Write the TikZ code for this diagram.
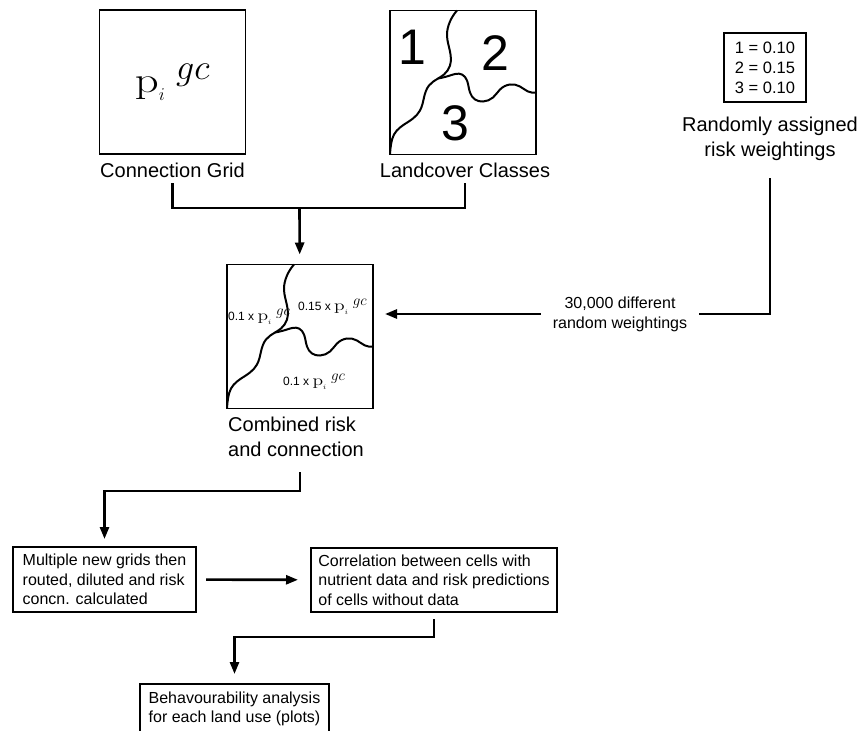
\RequirePackage{fix-cm}
\documentclass[tikz,border=0pt]{standalone}
\usepackage{graphicx}
\usepackage[no-math]{fontspec}
\newfontfamily\arial{Liberation Sans}
\usetikzlibrary{
  hobby,
  arrows.meta,
  positioning,
}
\newcommand\pgc[1]{{\fontsize{#1}{#1}\selectfont$\scalebox{1.3}[1]{$\mathrm{p}$}_{\scriptscriptstyle i}{}^{\hspace{.3em}\textstyle gc}$}}
\tikzset{
  frame/.style={line width=1.8pt},
  line/.style={line width=2.6pt},
  link/.style={line, -{Triangle[length=12pt,width=9pt]}},
  grid/.style={draw, frame, minimum width=146pt, minimum height=144pt, inner sep=0pt, outer sep=0pt},
  lbl/.style={font=\arial\fontsize{20}{25}\selectfont, inner sep=0pt},
  digit/.style={font=\arial\fontsize{50}{50}\selectfont, inner sep=0pt},
  share/.style={font=\arial\fontsize{12}{14}\selectfont, inner sep=0pt, anchor=west},
  note/.style={font=\arial\fontsize{16}{20}\selectfont, align=center, inner xsep=12pt, inner ysep=0pt},
  stepbox/.style={draw, frame, font=\arial\fontsize{16}{19.5}\selectfont, align=left, inner sep=0pt, outer sep=0pt},
  regions/.pic={
    \draw[line width=2pt, use Hobby shortcut] (67,0) .. (60,11) .. (57,25) .. (60,41) .. (60,55) .. (54,64) .. (48,68) .. (39,75) .. (34,87) .. (30,100) .. (23,108) .. (10,117) .. (4,124) .. (1,134) .. (0,144);
    \draw[line width=2pt, use Hobby shortcut] (48,68) .. (60,65) .. (72,64) .. (77,70) .. (80,82) .. (85,89) .. (93,91) .. (103,87) .. (110,79) .. (120,74) .. (130,76) .. (138,81) .. (146,82);
  },
}
\begin{document}
\begin{tikzpicture}[x=1pt, y=-1pt]
\useasboundingbox (0,0) rectangle (861,730);
\node[grid] (cg) at (172.5,82) {\pgc{36}};
\node[grid] (lc) at (463,82.5) {};
\node[grid] (cr) at (300,336.5) {};
\node[lbl, anchor=base] (cgl) at (172.5,178) {Connection Grid};
\node[lbl, anchor=base] (lcl) at (465,178) {Landcover Classes};
\node[lbl, anchor=north west, align=left] (crl) at (228,417) {Combined risk\\and connection};
\node[draw, frame, font=\arial\fontsize{16.5}{20}\selectfont, align=center, minimum width=82pt, minimum height=69pt, inner sep=0pt] (wt) at (765,67.5) {1 = 0.10\\2 = 0.15\\3 = 0.10};
\node[lbl, align=center, anchor=north] (wtl) at (770,117) {Randomly assigned\\risk weightings};
\node[note] (rw) at (620,314) {30,000 different\\random weightings};
\node[stepbox, minimum width=183pt, minimum height=65pt] (mg) at (104.5,579.5) {Multiple new grids then\\routed, diluted and risk\\concn. calculated};
\node[stepbox, minimum width=246pt, minimum height=64pt] (co) at (434,580) {Correlation between cells with\\nutrient data and risk predictions\\of cells without data};
\node[stepbox, align=center, minimum width=189pt, minimum height=50pt] (ba) at (234.5,709) {Behavourability analysis\\for each land use (plots)};

\begin{scope}[shift={(lc.north west)}]
  \pic {regions};
  \node[digit] at (22,37) {1};
  \node[digit] at (105,43) {2};
  \node[digit] at (65,113) {3};
\end{scope}
\begin{scope}[shift={(cr.north west)}]
  \pic {regions};
  \node[share] at (1,52) {0.1 x \pgc{15}};
  \node[share] at (71,42) {0.15 x \pgc{15}};
  \node[share] at (56,117) {0.1 x \pgc{15}};
\end{scope}

\coordinate (j1) at (299.5,208);
\draw[line] ([yshift=-5pt]cgl.south) |- (j1) -| ([yshift=-5pt]lcl.south);
\draw[link, shorten >=10pt] (j1) -- (cr);
\draw[line] ([yshift=-17pt]wtl.south) |- (rw);
\draw[link, shorten >=12pt] (rw) -- (rw -| cr.east);
\draw[link, shorten >=8pt] ([yshift=-15pt]cr.south |- crl.south) -- ++(0,19) -| (mg);
\draw[link, shorten <=10pt, shorten >=13pt] (mg) -- (co);
\draw[link, shorten >=10pt] ([yshift=-7pt]co.south) -- ++(0,18) -| (ba);
\end{tikzpicture}
\end{document}
